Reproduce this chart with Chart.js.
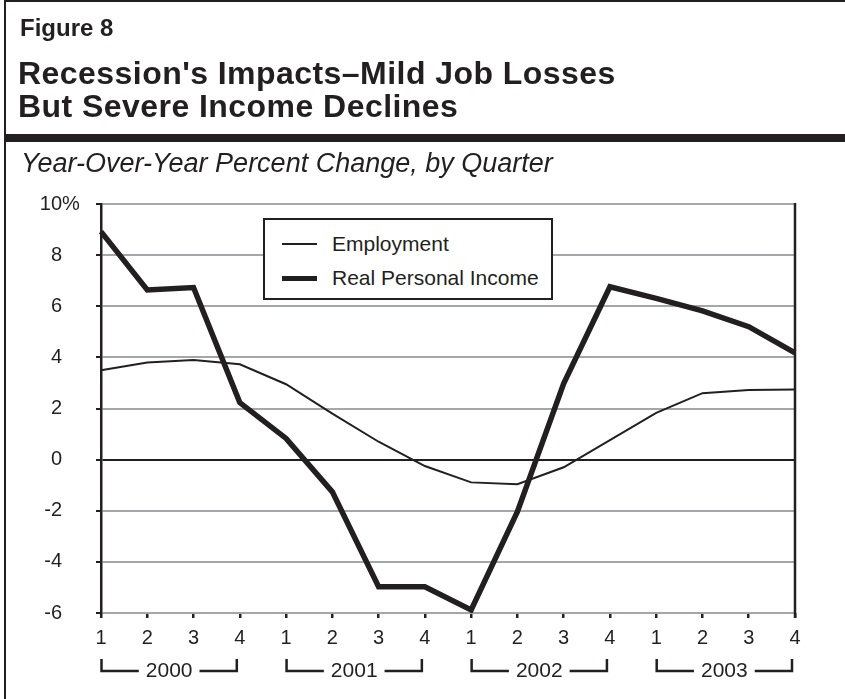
<!DOCTYPE html>
<html>
<head>
<meta charset="utf-8">
<script src="https://cdn.jsdelivr.net/npm/chart.js@4.4.1/dist/chart.umd.min.js"></script>
<style>
    body { margin: 0; background: #fff; }
    #page { position: relative; width: 845px; height: 699px; overflow: hidden; font-family: 'Liberation Sans', Arial, sans-serif; color: #231f20; }
    #chartBox { position: absolute; left: 0; top: 0; width: 845px; height: 699px; }
    .frameLeft { position: absolute; left: 4px; top: 0; width: 2px; height: 699px; background: #231f20; }
    .frameTop { position: absolute; left: 4px; top: 0; width: 841px; height: 2px; background: #231f20; }
    .frameBar { position: absolute; left: 4px; top: 134px; width: 841px; height: 8px; background: #231f20; }
    .txt { position: absolute; white-space: nowrap; }
    #figNum { left: 20px; top: 16px; font-size: 24px; line-height: 24px; font-weight: bold; }
    #title { left: 18px; top: 57px; font-size: 32px; line-height: 33px; font-weight: bold; letter-spacing: 0.45px; }
    #subtitle { left: 21px; top: 150px; font-size: 27px; line-height: 27px; font-style: italic; }
    #legend { position: absolute; left: 263px; top: 218px; width: 286px; height: 78px; border: 2px solid #231f20; background: #fff; }
    .legLine { position: absolute; left: 17px; width: 35px; background: #231f20; }
    .legText { position: absolute; left: 67px; font-size: 21px; line-height: 21px; white-space: nowrap; }
</style>
</head>
<body>
<div id="page">
    <div id="chartBox"><canvas id="recessionChart"></canvas></div>
    <div class="frameLeft"></div>
    <div class="frameTop"></div>
    <div class="frameBar"></div>
    <div class="txt" id="figNum">Figure 8</div>
    <div class="txt" id="title">Recession's Impacts–Mild Job Losses<br>But Severe Income Declines</div>
    <div class="txt" id="subtitle">Year-Over-Year Percent Change, by Quarter</div>
    <div id="legend"></div>
</div>
<script>
// Data
const years = ['2000', '2001', '2002', '2003'];
const quarters = ['1', '2', '3', '4'];
const employment = [3.5, 3.8, 3.9, 3.73, 2.95, 1.8, 0.7, -0.25, -0.89, -0.96, -0.3, 0.76, 1.83, 2.6, 2.72, 2.74];
const realPersonalIncome = [8.92, 6.64, 6.73, 2.23, 0.83, -1.26, -4.97, -4.97, -5.88, -2.04, 2.98, 6.76, 6.31, 5.82, 5.2, 4.18];
const seriesNames = ['Employment', 'Real Personal Income'];
const yTicks = [-6, -4, -2, 0, 2, 4, 6, 8, 10];

const ink = '#231f20';
const gridGray = '#a3a7ab';
const tickFont = { family: "'Liberation Sans', Arial, sans-serif", size: 20 };

const quarterLabels = [];
years.forEach(function() { quarters.forEach(function(q) { quarterLabels.push(q); }); });

// Legend box (HTML)
const legend = document.getElementById('legend');
const legendWidths = [2, 5];
const legendRows = [24, 58];
seriesNames.forEach(function(name, i) {
    const line = document.createElement('div');
    line.className = 'legLine';
    line.style.top = (legendRows[i] - legendWidths[i] / 2) + 'px';
    line.style.height = legendWidths[i] + 'px';
    legend.appendChild(line);
    const t = document.createElement('div');
    t.className = 'legText';
    t.style.top = (legendRows[i] - 11) + 'px';
    t.textContent = name;
    legend.appendChild(t);
});

// Right frame of the plot, "%" on the top tick, year brackets under the axis
const chartDecor = {
    id: 'chartDecor',
    afterDatasetsDraw: function(chart) {
        const ctx = chart.ctx;
        const area = chart.chartArea;
        ctx.save();
        ctx.strokeStyle = ink;
        ctx.lineWidth = 2.5;
        ctx.beginPath();
        ctx.moveTo(area.right, area.top - 1);
        ctx.lineTo(area.right, area.bottom + 5);
        ctx.stroke();
        ctx.restore();
    },
    afterDraw: function(chart) {
        const ctx = chart.ctx;
        const xs = chart.scales.x;
        const ys = chart.scales.y;
        ctx.save();
        ctx.fillStyle = ink;
        ctx.font = tickFont.size + 'px ' + tickFont.family;
        ctx.textBaseline = 'middle';
        ctx.textAlign = 'left';
        ctx.fillText('%', ys.right - 5 - 34, ys.getPixelForValue(ys.max));

        const yLine = chart.chartArea.bottom + 58;
        ctx.strokeStyle = ink;
        ctx.lineWidth = 2.5;
        ctx.textAlign = 'center';
        ctx.font = '21px ' + tickFont.family;
        years.forEach(function(yr, i) {
            const x1 = xs.getPixelForValue(i * 4) + 0.5;
            const x2 = xs.getPixelForValue(i * 4 + 3) - 3;
            const mid = (x1 + x2) / 2;
            const half = ctx.measureText(yr).width / 2 + 7;
            ctx.beginPath();
            ctx.moveTo(x1, yLine - 12);
            ctx.lineTo(x1, yLine);
            ctx.lineTo(mid - half, yLine);
            ctx.moveTo(mid + half, yLine);
            ctx.lineTo(x2, yLine);
            ctx.lineTo(x2, yLine - 12);
            ctx.stroke();
            ctx.fillText(yr, mid, yLine);
        });
        ctx.restore();
    }
};

const recessionChart = new Chart(document.getElementById('recessionChart'), {
    type: 'line',
    data: {
        labels: quarterLabels,
        datasets: [
            {
                label: seriesNames[0],
                data: employment,
                borderColor: ink,
                borderWidth: 2,
                pointRadius: 0,
                tension: 0
            },
            {
                label: seriesNames[1],
                data: realPersonalIncome,
                borderColor: ink,
                borderWidth: 5.5,
                pointRadius: 0,
                tension: 0
            }
        ]
    },
    options: {
        responsive: true,
        maintainAspectRatio: false,
        animation: false,
        layout: { padding: { left: 0, top: 204, right: 50, bottom: 0 } },
        plugins: {
            legend: { display: false },
            tooltip: { enabled: false }
        },
        scales: {
            x: {
                offset: false,
                afterFit: function(scale) { scale.height = 86; },
                grid: {
                    offset: false,
                    drawOnChartArea: false,
                    tickLength: 5,
                    tickColor: ink,
                    lineWidth: 2.5
                },
                border: { display: false },
                ticks: {
                    color: ink,
                    font: tickFont,
                    padding: 8,
                    maxRotation: 0,
                    autoSkip: false
                }
            },
            y: {
                min: -6,
                max: 10,
                afterFit: function(scale) { scale.width = 101; },
                afterBuildTicks: function(scale) {
                    scale.ticks = yTicks.map(function(v) { return { value: v }; });
                },
                grid: {
                    color: function(c) { return c.tick && c.tick.value === 0 ? ink : gridGray; },
                    lineWidth: 2,
                    tickLength: 5,
                    tickColor: ink
                },
                border: { color: ink, width: 2.5 },
                ticks: {
                    color: ink,
                    font: tickFont,
                    padding: 34
                }
            }
        }
    },
    plugins: [chartDecor]
});
</script>
</body>
</html>
